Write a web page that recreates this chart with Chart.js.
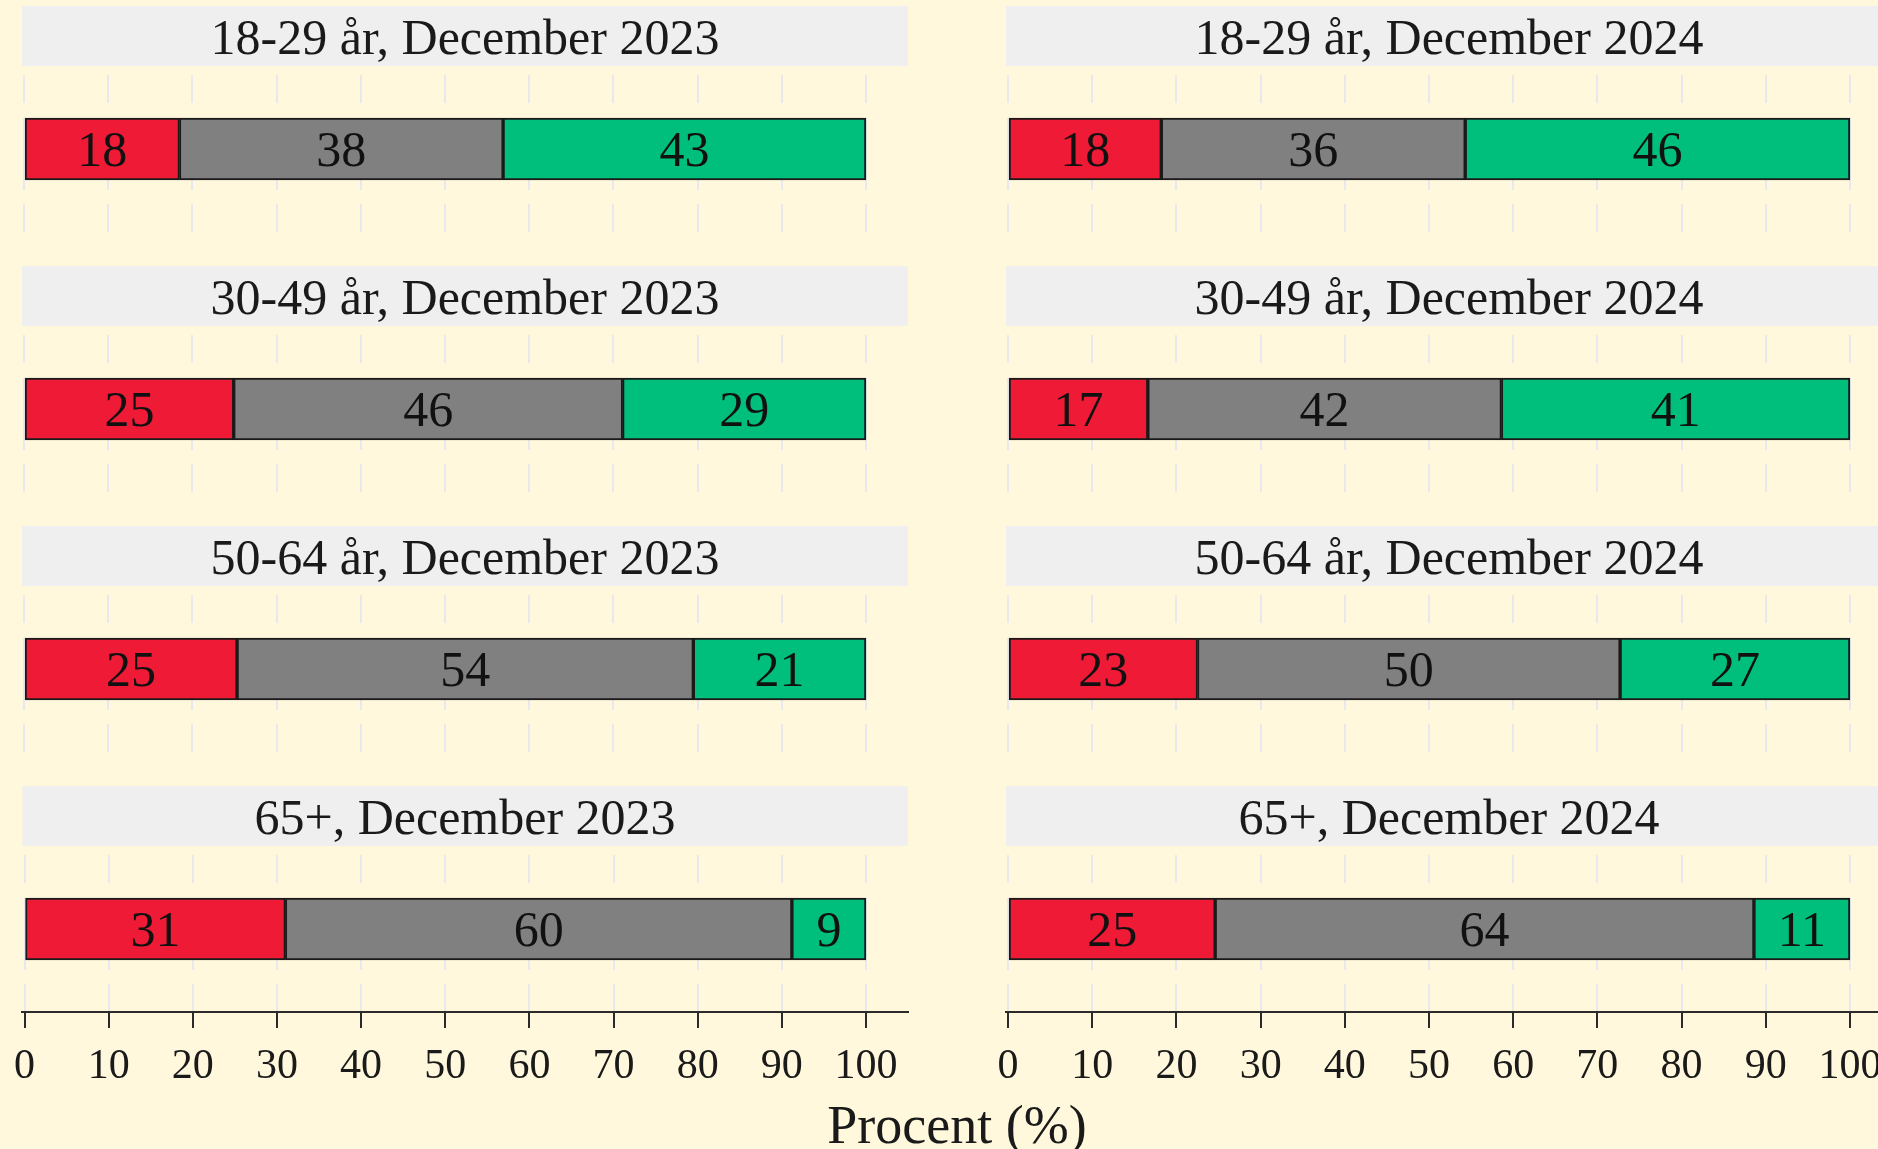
<!DOCTYPE html>
<html>
<head>
<meta charset="utf-8">
<script src="https://cdn.jsdelivr.net/npm/chart.js@4.4.1/dist/chart.umd.min.js"></script>
<style>
  html, body { margin: 0; padding: 0; background: #FFF8DC; overflow: hidden; width: 1878px; height: 1149px; position: relative; }
  canvas { position: absolute; }
  #xtitle { position: absolute; left: 0; width: 1914px; top: 1095px; text-align: center;
            font-family: "Liberation Serif", serif; font-size: 54px; line-height: 60px; color: #1a1a1a; }
</style>
</head>
<body>
<div id="xtitle">Procent (%)</div>
<script>
// ---- data ----
const ageGroups = ['18-29 år', '30-49 år', '50-64 år', '65+'];
const periods = ['December 2023', 'December 2024'];
const seriesNames = ['Negativ', 'Neutral', 'Positiv'];
const negative2023 = [18.45, 24.9, 25.3, 31.0];
const neutral2023  = [38.45, 46.2, 54.2, 60.2];
const positive2023 = [43.1, 28.9, 20.5, 8.8];
const negative2024 = [18.2, 16.6, 22.5, 24.6];
const neutral2024  = [36.1, 42.0, 50.2, 64.0];
const positive2024 = [45.7, 41.4, 27.3, 11.4];
const xTicks = [0, 10, 20, 30, 40, 50, 60, 70, 80, 90, 100];

// ---- styles ----
const BG = '#FFF8DC';
const STRIP = '#EFEFEF';
const seriesColors = ['#EE1A36', '#808080', '#00BF7D'];
const FONT = '"Liberation Serif", serif';
const valuesByPeriod = [
  [negative2023, neutral2023, positive2023],
  [negative2024, neutral2024, positive2024]
];

const stripPlugin = {
  id: 'strip',
  beforeDraw(chart) {
    const t = chart.titleBlock, ca = chart.chartArea, ctx = chart.ctx;
    ctx.save();
    ctx.fillStyle = STRIP;
    ctx.fillRect(ca.left, t.top, ca.right - ca.left, t.height);
    ctx.restore();
  }
};

const gapPlugin = {
  id: 'gaps',
  beforeDatasetsDraw(chart) {
    const ca = chart.chartArea, ctx = chart.ctx;
    const el = chart.getDatasetMeta(0).data[0];
    const top = el.y - el.height / 2, bot = el.y + el.height / 2;
    ctx.save();
    ctx.fillStyle = BG;
    ctx.fillRect(ca.left, ca.top, ca.right - ca.left, 9);
    ctx.fillRect(ca.left, top - 15, ca.right - ca.left, 15);
    ctx.fillRect(ca.left, bot + 10, ca.right - ca.left, 14);
    ctx.restore();
  }
};

const labelPlugin = {
  id: 'segLabels',
  afterDatasetsDraw(chart) {
    const ctx = chart.ctx;
    ctx.save();
    ctx.font = '50px ' + FONT;
    ctx.fillStyle = '#111';
    ctx.textAlign = 'center';
    ctx.textBaseline = 'alphabetic';
    chart.data.datasets.forEach((ds, i) => {
      chart.getDatasetMeta(i).data.forEach((el, j) => {
        ctx.fillText(String(Math.round(ds.data[j])), (el.x + el.base) / 2, el.y + 17);
      });
    });
    ctx.restore();
  }
};

const ROW_H = 260;
const LAST_H = 1149 - 780;
const AXIS_H = 80;

function makePanel(col, row) {
  const isBottom = row === ageGroups.length - 1;
  const cv = document.createElement('canvas');
  const w = col === 0 ? 940 : 1000;
  const h = isBottom ? LAST_H : ROW_H;
  cv.width = w; cv.height = h;
  cv.style.width = w + 'px'; cv.style.height = h + 'px';
  cv.style.left = (col === 0 ? 0 : 940) + 'px';
  cv.style.top = (row * ROW_H) + 'px';
  document.body.appendChild(cv);

  const vals = valuesByPeriod[col];
  new Chart(cv, {
    type: 'bar',
    data: {
      labels: [ageGroups[row]],
      datasets: seriesNames.map((name, k) => ({
        label: name,
        data: [vals[k][row]],
        backgroundColor: seriesColors[k],
        borderColor: '#1a1a1a',
        borderWidth: 2,
        borderSkipped: false,
        barThickness: 62
      }))
    },
    options: {
      indexAxis: 'y',
      responsive: false,
      animation: false,
      events: [],
      layout: {
        padding: {
          left: col === 0 ? 22 : 66,
          right: col === 0 ? 32 : 48,
          top: 6,
          bottom: isBottom ? (LAST_H - 232 - AXIS_H) : 28
        }
      },
      plugins: {
        legend: { display: false },
        tooltip: { enabled: false },
        title: {
          display: true,
          text: ageGroups[row] + ', ' + periods[col],
          font: { family: FONT, size: 50, weight: 'normal', lineHeight: 1.0 },
          color: '#1a1a1a',
          padding: { top: 10, bottom: 0 }
        }
      },
      scales: {
        x: {
          type: 'linear',
          stacked: true,
          min: -0.25,
          max: 105,
          afterBuildTicks: s => { s.ticks = xTicks.map(v => ({ value: v })); },
          afterFit: s => { s.height = isBottom ? AXIS_H : 0; },
          grid: { color: '#E8E8EE', lineWidth: 2, drawTicks: isBottom, tickLength: 16, tickColor: '#2a2a2a', tickWidth: 2 },
          border: { display: isBottom, color: '#2a2a2a', width: 2 },
          ticks: { display: isBottom, font: { family: FONT, size: 42 }, color: '#1a1a1a', padding: 14 }
        },
        y: { stacked: true, display: false }
      }
    },
    plugins: [stripPlugin, gapPlugin, labelPlugin]
  });
}

for (let c = 0; c < periods.length; c++) {
  for (let r = 0; r < ageGroups.length; r++) makePanel(c, r);
}
</script>
</body>
</html>
